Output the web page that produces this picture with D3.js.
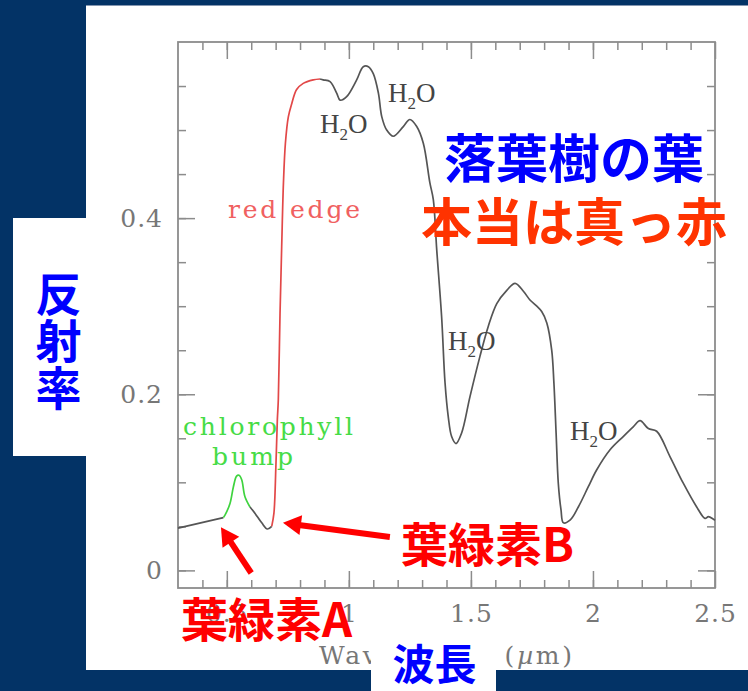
<!DOCTYPE html>
<html>
<head>
<meta charset="utf-8">
<script src="https://cdn.jsdelivr.net/npm/d3@7"></script>
<style>
  html, body { margin: 0; padding: 0; background: #033366; }
  svg { display: block; }
</style>
</head>
<body>
<svg id="chart" width="748" height="691"></svg>
<script>
// Leaf reflectance spectrum (wavelength in µm, reflectance 0–1)
const wavelength = [0.30, 0.486, 0.493, 0.513, 0.527, 0.540, 0.550, 0.561, 0.574, 0.595,
  0.615, 0.643, 0.666, 0.684, 0.693, 0.701, 0.707, 0.711, 0.718, 0.725,
  0.732, 0.740, 0.752, 0.766, 0.786, 0.813, 0.854, 0.882, 0.895, 0.923,
  0.950, 0.964, 0.991, 1.032, 1.059, 1.080, 1.100, 1.121, 1.135, 1.155,
  1.182, 1.223, 1.250, 1.278, 1.305, 1.332, 1.346, 1.360, 1.380, 1.394,
  1.407, 1.421, 1.439, 1.462, 1.496, 1.537, 1.571, 1.606, 1.647, 1.681,
  1.715, 1.742, 1.770, 1.790, 1.811, 1.831, 1.840, 1.849, 1.858, 1.869,
  1.879, 1.906, 1.940, 1.981, 2.015, 2.070, 2.124, 2.165, 2.193, 2.227,
  2.261, 2.316, 2.370, 2.425, 2.459, 2.473, 2.494, 2.500];
const reflectance = [0.048, 0.060, 0.063, 0.076, 0.095, 0.107, 0.108, 0.103, 0.084, 0.072,
  0.065, 0.054, 0.047, 0.050, 0.065, 0.118, 0.171, 0.194, 0.292, 0.370,
  0.440, 0.485, 0.515, 0.530, 0.546, 0.553, 0.557, 0.558, 0.557, 0.555,
  0.542, 0.534, 0.538, 0.557, 0.572, 0.572, 0.564, 0.542, 0.515, 0.500,
  0.493, 0.504, 0.512, 0.504, 0.485, 0.440, 0.421, 0.364, 0.288, 0.213,
  0.175, 0.152, 0.144, 0.156, 0.197, 0.243, 0.277, 0.303, 0.318, 0.326,
  0.317, 0.307, 0.300, 0.294, 0.281, 0.250, 0.213, 0.156, 0.099, 0.069,
  0.054, 0.057, 0.072, 0.095, 0.114, 0.137, 0.152, 0.163, 0.170, 0.161,
  0.158, 0.129, 0.099, 0.072, 0.059, 0.061, 0.058, 0.057];

// Coloured stretches of the spectrum
const segmentBreaks = [0.30, 0.486, 0.595, 0.684, 0.882, 2.50];
const segmentColors = ["#555555", "#3fd33f", "#555555", "#e24848", "#555555"];

// Axis ticks
const xMajorTicks = [0.5, 1, 1.5, 2, 2.5];
const xTickLabels = ["0.5", "1", "1.5", "2", "2.5"];
const yMajorTicks = [0, 0.2, 0.4];
const yTickLabels = ["0", "0.2", "0.4"];

// Water absorption labels: [wavelength, reflectance] of each label's start/baseline
const waterLabelX = [0.882, 1.160, 1.406, 1.906];
const waterLabelY = [0.497, 0.532, 0.250, 0.148];

// Arrows pointing at the chlorophyll absorption features
const arrowTail = [[0.600, -0.003], [1.168, 0.038]];
const arrowTip  = [[0.476, 0.049], [0.730, 0.054]];

const W = 748, H = 691;
const svg = d3.select("#chart");
const navy = "#033366";
const jp = "'Noto Sans CJK JP', 'Noto Sans CJK SC', sans-serif";
const serif = "'Liberation Serif', 'DejaVu Serif', serif";
const wideSerif = "'DejaVu Serif', 'Liberation Serif', serif";

svg.append("rect").attr("width", W).attr("height", H).attr("fill", navy);
svg.append("rect").attr("x", 86).attr("y", 6).attr("width", W - 86).attr("height", 664).attr("fill", "#ffffff");
svg.append("line").attr("x1", 86).attr("x2", W).attr("y1", 5.5).attr("y2", 5.5)
  .attr("stroke", "#8496b0").attr("stroke-width", 1);

const x = d3.scaleLinear().domain([0.3, 2.5]).range([178, 715]);
const y = d3.scaleLinear().domain([-0.02, 0.6]).range([588, 42]);

const xMinor = d3.range(4, 25).map(i => i / 10);
const yMinor = d3.range(0, 12).map(i => +(i * 0.05).toFixed(2));

const tickColor = "#8c8c8c";
const labelColor = "#777777";

function styleAxis(g) {
  g.select(".domain").remove();
  g.selectAll(".tick line").attr("stroke", tickColor).attr("stroke-width", 1.5);
  g.selectAll(".tick text")
    .attr("fill", labelColor)
    .style("font-family", wideSerif)
    .style("font-size", "25px")
    .style("letter-spacing", "1px");
}

// bottom
svg.append("g").attr("transform", `translate(0,${y.range()[0]})`)
  .call(d3.axisBottom(x).tickValues(xMinor).tickSize(-8).tickFormat(""))
  .call(styleAxis);
svg.append("g").attr("transform", `translate(0,${y.range()[0]})`)
  .call(d3.axisBottom(x).tickValues(xMajorTicks).tickSize(-17).tickPadding(16)
    .tickFormat((d, i) => xTickLabels[i]))
  .call(styleAxis);
// top
svg.append("g").attr("transform", `translate(0,${y.range()[1]})`)
  .call(d3.axisTop(x).tickValues(xMinor).tickSize(-8).tickFormat(""))
  .call(styleAxis);
svg.append("g").attr("transform", `translate(0,${y.range()[1]})`)
  .call(d3.axisTop(x).tickValues(xMajorTicks).tickSize(-17).tickFormat(""))
  .call(styleAxis);
// left
svg.append("g").attr("transform", `translate(${x.range()[0]},0)`)
  .call(d3.axisLeft(y).tickValues(yMinor).tickSize(-8).tickFormat(""))
  .call(styleAxis);
svg.append("g").attr("transform", `translate(${x.range()[0]},0)`)
  .call(d3.axisLeft(y).tickValues(yMajorTicks).tickSize(-17).tickPadding(15)
    .tickFormat((d, i) => yTickLabels[i]))
  .call(styleAxis);
// right
svg.append("g").attr("transform", `translate(${x.range()[1]},0)`)
  .call(d3.axisRight(y).tickValues(yMinor).tickSize(-8).tickFormat(""))
  .call(styleAxis);
svg.append("g").attr("transform", `translate(${x.range()[1]},0)`)
  .call(d3.axisRight(y).tickValues(yMajorTicks).tickSize(-17).tickFormat(""))
  .call(styleAxis);

// plot frame
svg.append("rect")
  .attr("x", x.range()[0]).attr("y", y.range()[1])
  .attr("width", x.range()[1] - x.range()[0])
  .attr("height", y.range()[0] - y.range()[1])
  .attr("fill", "none").attr("stroke", tickColor).attr("stroke-width", 1.8);

// spectrum
const points = wavelength.map((w, i) => [w, reflectance[i]]);
const line = d3.line()
  .x(d => x(d[0])).y(d => y(d[1]))
  .curve(d3.curveCatmullRom.alpha(0.5));

segmentColors.forEach((c, i) => {
  const lo = segmentBreaks[i], hi = segmentBreaks[i + 1];
  const seg = points.filter(p => p[0] >= lo - 1e-9 && p[0] <= hi + 1e-9);
  svg.append("path").datum(seg)
    .attr("d", line)
    .attr("fill", "none")
    .attr("stroke", c)
    .attr("stroke-width", 1.7)
    .attr("stroke-linejoin", "round");
});

// H2O labels
waterLabelX.forEach((w, i) => {
  const t = svg.append("text")
    .attr("x", x(w)).attr("y", y(waterLabelY[i]))
    .attr("fill", "#444")
    .style("font-family", serif)
    .style("font-size", "27px");
  t.append("tspan").text("H");
  t.append("tspan").attr("dy", 7).style("font-size", "17px").text("2");
  t.append("tspan").attr("dy", -7).text("O");
});

// in-plot annotations
svg.append("text").attr("x", 228).attr("y", 218)
  .attr("fill", "#f06060").attr("textLength", 132).attr("lengthAdjust", "spacing")
  .style("font-family", wideSerif).style("font-size", "25px").text("red edge");
svg.append("text").attr("x", 183).attr("y", 435)
  .attr("fill", "#46dc46").attr("textLength", 170).attr("lengthAdjust", "spacing")
  .style("font-family", wideSerif).style("font-size", "25px").text("chlorophyll");
svg.append("text").attr("x", 212).attr("y", 465)
  .attr("fill", "#46dc46").attr("textLength", 81).attr("lengthAdjust", "spacing")
  .style("font-family", wideSerif).style("font-size", "25px").text("bump");

// x-axis title
const xt = svg.append("text").attr("x", 319).attr("y", 664)
  .attr("fill", labelColor).attr("textLength", 253).attr("lengthAdjust", "spacing")
  .style("font-family", wideSerif).style("font-size", "25px");
xt.append("tspan").text("Wavelength (");
xt.append("tspan").style("font-style", "italic").text("µ");
xt.append("tspan").text("m)");

// Japanese headline
svg.append("text").attr("x", 574).attr("y", 155)
  .attr("text-anchor", "middle").attr("dominant-baseline", "central")
  .attr("fill", "#0000ff")
  .style("font-family", jp).style("font-weight", 700).style("font-size", "52px")
  .text("落葉樹の葉");
svg.append("text").attr("x", 574).attr("y", 219)
  .attr("text-anchor", "middle").attr("dominant-baseline", "central")
  .attr("fill", "#ff3300")
  .style("font-family", jp).style("font-weight", 700).style("font-size", "51px")
  .text("本当は真っ赤");

// arrows
arrowTail.forEach((tail, i) => {
  const [x0, y0] = [x(tail[0]), y(tail[1])];
  const [x1, y1] = [x(arrowTip[i][0]), y(arrowTip[i][1])];
  const len = Math.hypot(x1 - x0, y1 - y0);
  const ux = (x1 - x0) / len, uy = (y1 - y0) / len;
  const headLen = 18, headHalf = 10;
  const bx = x1 - ux * headLen, by = y1 - uy * headLen;
  svg.append("line")
    .attr("x1", x0).attr("y1", y0).attr("x2", bx + ux * 2).attr("y2", by + uy * 2)
    .attr("stroke", "#ff0000").attr("stroke-width", 6);
  svg.append("path")
    .attr("d", `M${x1},${y1}L${bx - uy * headHalf},${by + ux * headHalf}L${bx + uy * headHalf},${by - ux * headHalf}Z`)
    .attr("fill", "#ff0000");
});

svg.append("text").attr("x", 401).attr("y", 541)
  .attr("dominant-baseline", "central").attr("fill", "#ff0000")
  .style("font-family", jp).style("font-weight", 700).style("font-size", "47px")
  .text("葉緑素B");
svg.append("text").attr("x", 181).attr("y", 616)
  .attr("dominant-baseline", "central").attr("fill", "#ff0000")
  .style("font-family", jp).style("font-weight", 700).style("font-size", "47px")
  .text("葉緑素A");

// axis name boxes
svg.append("rect").attr("x", 13).attr("y", 218).attr("width", 97).attr("height", 238).attr("fill", "#ffffff");
const yl = svg.append("text").attr("fill", "#0000ff")
  .attr("text-anchor", "middle").attr("dominant-baseline", "central")
  .style("font-family", jp).style("font-weight", 700).style("font-size", "46px");
["反", "射", "率"].forEach((ch, i) => {
  yl.append("tspan").attr("x", 58.5).attr("y", 291 + i * 47).text(ch);
});

svg.append("rect").attr("x", 371).attr("y", 623).attr("width", 125).attr("height", H - 623).attr("fill", "#ffffff");
svg.append("text").attr("x", 434.5).attr("y", 661.5)
  .attr("text-anchor", "middle").attr("dominant-baseline", "central")
  .attr("fill", "#0000ff")
  .style("font-family", jp).style("font-weight", 700).style("font-size", "42px")
  .text("波長");
</script>
</body>
</html>
